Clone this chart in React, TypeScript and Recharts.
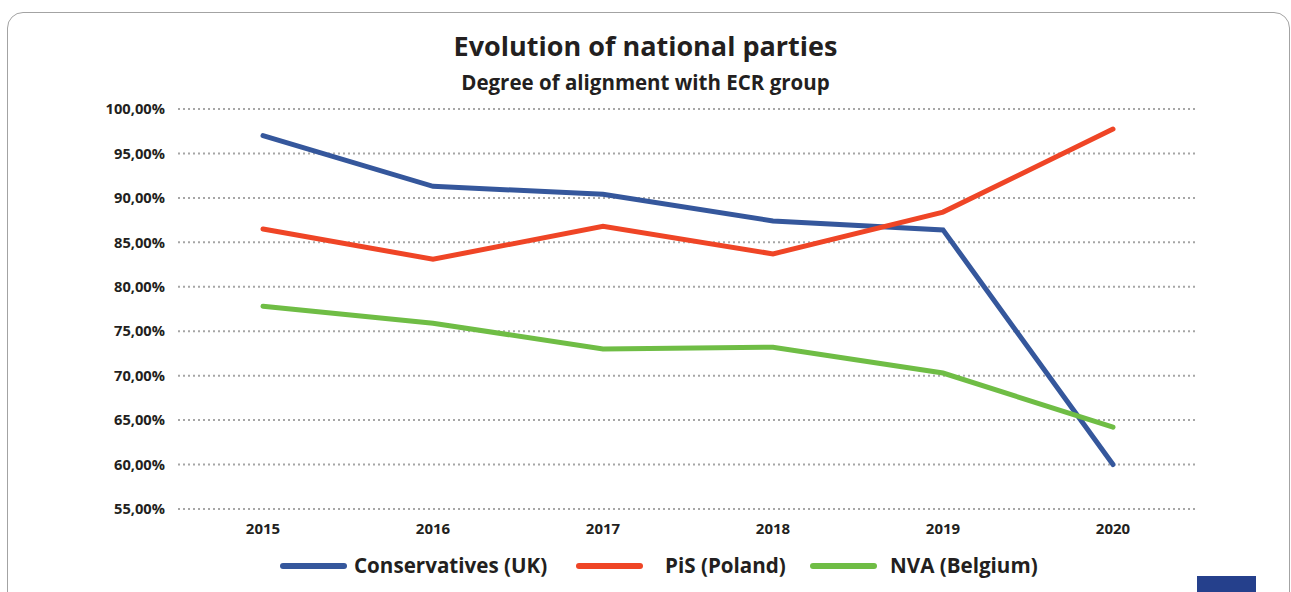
import { LineChart, Line, XAxis, YAxis, CartesianGrid } from 'recharts';

const YEARS = ['2015', '2016', '2017', '2018', '2019', '2020'];
const CONSERVATIVES = [97.0, 91.3, 90.4, 87.4, 86.4, 60.0];
const PIS = [86.5, 83.1, 86.8, 83.7, 88.4, 97.75];
const NVA = [77.8, 75.9, 73.0, 73.2, 70.3, 64.2];
const Y_TICKS = [55, 60, 65, 70, 75, 80, 85, 90, 95, 100];

const SERIES = [
  { key: 'cons', name: 'Conservatives (UK)', color: '#35579c', lineX: 280, textX: 354 },
  { key: 'pis', name: 'PiS (Poland)', color: '#ef4526', lineX: 576, textX: 665 },
  { key: 'nva', name: 'NVA (Belgium)', color: '#6fbd45', lineX: 810, textX: 890 },
];

const FONT = '"Open Sans", "Noto Sans", sans-serif';
const TEXT = '#231f20';

const data = YEARS.map((year, i) => ({
  year,
  cons: CONSERVATIVES[i],
  pis: PIS[i],
  nva: NVA[i],
}));

const fmt = (v: number) => v.toFixed(2).replace('.', ',') + '%';

export default function App() {
  return (
    <div style={{ position: 'absolute', left: 0, top: 0, width: 1291, height: 592, overflow: 'hidden', background: '#fff' }}>
      <div
        style={{
          position: 'absolute',
          left: 7,
          top: 12,
          width: 1281,
          height: 620,
          border: '1.5px solid #a3a3a3',
          borderRadius: 16,
        }}
      />
      <div
        style={{
          position: 'absolute',
          left: 0,
          top: 28,
          width: 1291,
          textAlign: 'center',
          fontFamily: FONT,
          fontWeight: 700,
          fontSize: 27,
          color: TEXT,
          lineHeight: '36px',
        }}
      >
        Evolution of national parties
      </div>
      <div
        style={{
          position: 'absolute',
          left: 0,
          top: 68,
          width: 1291,
          textAlign: 'center',
          fontFamily: FONT,
          fontWeight: 700,
          fontSize: 20.5,
          color: TEXT,
          lineHeight: '28px',
        }}
      >
        Degree of alignment with ECR group
      </div>
      <div style={{ position: 'absolute', left: 0, top: 0 }}>
        <LineChart width={1291} height={592} data={data} margin={{ top: 109, right: 93, bottom: 53, left: 0 }}>
          <CartesianGrid vertical={false} strokeDasharray="2 3" stroke="#a6a6a6" strokeWidth={2} />
          <XAxis
            dataKey="year"
            height={30}
            axisLine={false}
            tickLine={false}
            padding={{ left: 85, right: 85 }}
            tickMargin={8}
            tick={{ fill: TEXT, fontSize: 15, fontWeight: 700, fontFamily: FONT }}
          />
          <YAxis
            width={178}
            domain={[55, 100]}
            ticks={Y_TICKS}
            axisLine={false}
            tickLine={false}
            tickMargin={7}
            tickFormatter={fmt}
            tick={{ fill: TEXT, fontSize: 14.7, fontWeight: 700, fontFamily: FONT }}
          />
          {SERIES.map((s) => (
            <Line
              key={s.key}
              dataKey={s.key}
              name={s.name}
              stroke={s.color}
              strokeWidth={5}
              strokeLinecap="round"
              dot={false}
              activeDot={false}
              isAnimationActive={false}
            />
          ))}
        </LineChart>
      </div>
      {SERIES.map((s) => (
        <div key={s.key}>
          <div
            style={{
              position: 'absolute',
              left: s.lineX,
              top: 563,
              width: 67,
              height: 6,
              borderRadius: 3,
              background: s.color,
            }}
          />
          <div
            style={{
              position: 'absolute',
              left: s.textX,
              top: 550,
              fontFamily: FONT,
              fontWeight: 700,
              fontSize: 20.6,
              lineHeight: '30px',
              color: TEXT,
              whiteSpace: 'nowrap',
            }}
          >
            {s.name}
          </div>
        </div>
      ))}
      <div style={{ position: 'absolute', left: 1197, top: 576, width: 59, height: 16, background: '#25408c' }} />
    </div>
  );
}
